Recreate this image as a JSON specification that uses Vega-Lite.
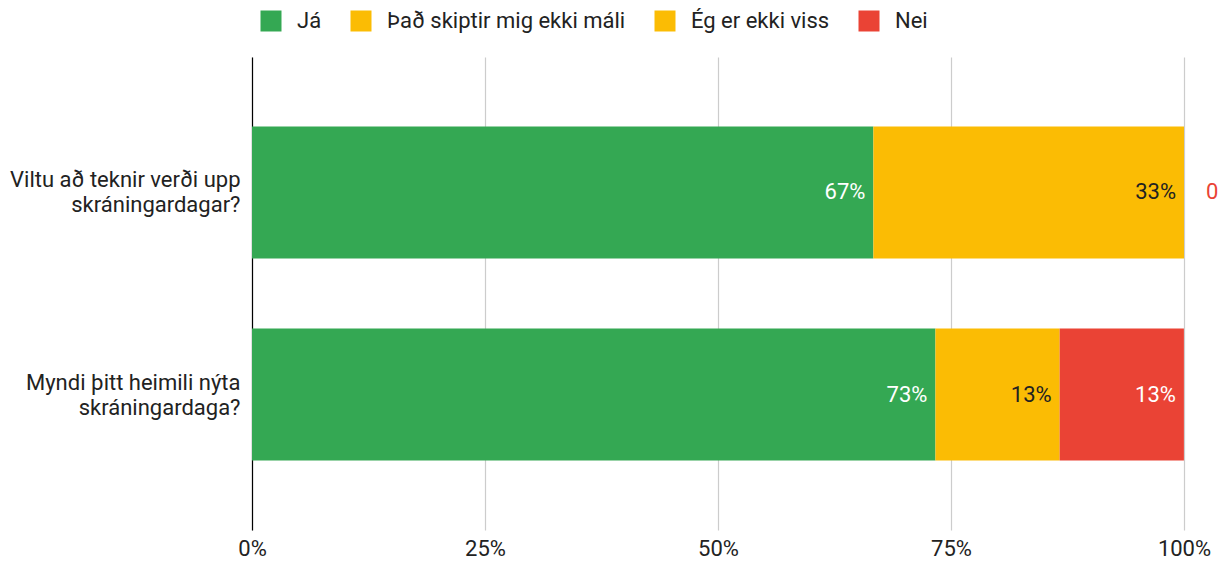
{
  "$schema": "https://vega.github.io/schema/vega-lite/v6.json",
  "width": 932,
  "height": 473,
  "autosize": {"type": "none"},
  "padding": {"left": 252, "top": 57, "right": 45, "bottom": 35},
  "background": "white",
  "config": {
    "font": "Roboto",
    "view": {"stroke": null}
  },
  "data": {
    "values": [
      {"q": "Viltu að teknir verði upp\nskráningardagar?", "a": "Já", "o": 1, "v": 0.6667},
      {"q": "Viltu að teknir verði upp\nskráningardagar?", "a": "Það skiptir mig ekki máli", "o": 2, "v": 0.3333},
      {"q": "Viltu að teknir verði upp\nskráningardagar?", "a": "Ég er ekki viss", "o": 3, "v": 0},
      {"q": "Viltu að teknir verði upp\nskráningardagar?", "a": "Nei", "o": 4, "v": 0},
      {"q": "Myndi þitt heimili nýta\nskráningardaga?", "a": "Já", "o": 1, "v": 0.7333},
      {"q": "Myndi þitt heimili nýta\nskráningardaga?", "a": "Það skiptir mig ekki máli", "o": 2, "v": 0.1333},
      {"q": "Myndi þitt heimili nýta\nskráningardaga?", "a": "Ég er ekki viss", "o": 3, "v": 0},
      {"q": "Myndi þitt heimili nýta\nskráningardaga?", "a": "Nei", "o": 4, "v": 0.1333}
    ]
  },
  "transform": [
    {"stack": "v", "groupby": ["q"], "sort": [{"field": "o", "order": "ascending"}], "as": ["x0", "x1"]}
  ],
  "encoding": {
    "y": {
      "field": "q",
      "type": "nominal",
      "sort": null,
      "scale": {"paddingInner": 0.3465, "paddingOuter": 0.344},
      "axis": {
        "title": null,
        "ticks": false,
        "labelPadding": 12,
        "labelFontSize": 22,
        "labelColor": "#222222",
        "labelLineHeight": 25,
        "labelOffset": -12,
        "labelExpr": "split(datum.label, '\\n')",
        "domainColor": "#000000",
        "domainWidth": 1.2,
        "grid": false,
        "labelLimit": 400
      }
    }
  },
  "resolve": {"scale": {"color": "independent"}},
  "layer": [
    {
      "mark": {"type": "bar"},
      "encoding": {
        "x": {
          "field": "x0",
          "type": "quantitative",
          "scale": {"domain": [0, 1]},
          "axis": {
            "title": null,
            "format": ".0%",
            "values": [0, 0.25, 0.5, 0.75, 1],
            "ticks": false,
            "domain": false,
            "grid": true,
            "gridColor": "#cccccc",
            "gridWidth": 1.2,
            "labelFontSize": 22,
            "labelColor": "#222222",
            "labelPadding": 8,
            "labelFlush": false
          }
        },
        "x2": {"field": "x1"},
        "color": {
          "field": "a",
          "type": "nominal",
          "scale": {
            "domain": ["Já", "Það skiptir mig ekki máli", "Ég er ekki viss", "Nei"],
            "range": ["#34A853", "#FBBC04", "#FBBC04", "#EA4335"]
          },
          "legend": {
            "title": null,
            "orient": "none",
            "direction": "horizontal",
            "legendX": 8,
            "legendY": -47,
            "symbolType": "square",
            "symbolSize": 441,
            "symbolStrokeWidth": 0,
            "labelFontSize": 22,
            "labelColor": "#222222",
            "labelOffset": 15,
            "columnPadding": 28,
            "labelLimit": 400
          }
        }
      }
    },
    {
      "transform": [{"filter": "datum.v > 0"}],
      "mark": {"type": "text", "align": "right", "baseline": "middle", "dx": -8, "fontSize": 22},
      "encoding": {
        "x": {"field": "x1", "type": "quantitative"},
        "text": {"field": "v", "type": "quantitative", "format": ".0%"},
        "color": {
          "field": "a",
          "type": "nominal",
          "scale": {
            "domain": ["Já", "Það skiptir mig ekki máli", "Ég er ekki viss", "Nei"],
            "range": ["#ffffff", "#222222", "#222222", "#ffffff"]
          },
          "legend": null
        }
      }
    },
    {
      "transform": [{"filter": "datum.v == 0 && datum.a == 'Nei'"}],
      "mark": {"type": "text", "align": "left", "baseline": "middle", "dx": 22, "fontSize": 22, "color": "#EA4335"},
      "encoding": {
        "x": {"field": "x1", "type": "quantitative"},
        "text": {"field": "v", "type": "quantitative", "format": "d"}
      }
    }
  ]
}
